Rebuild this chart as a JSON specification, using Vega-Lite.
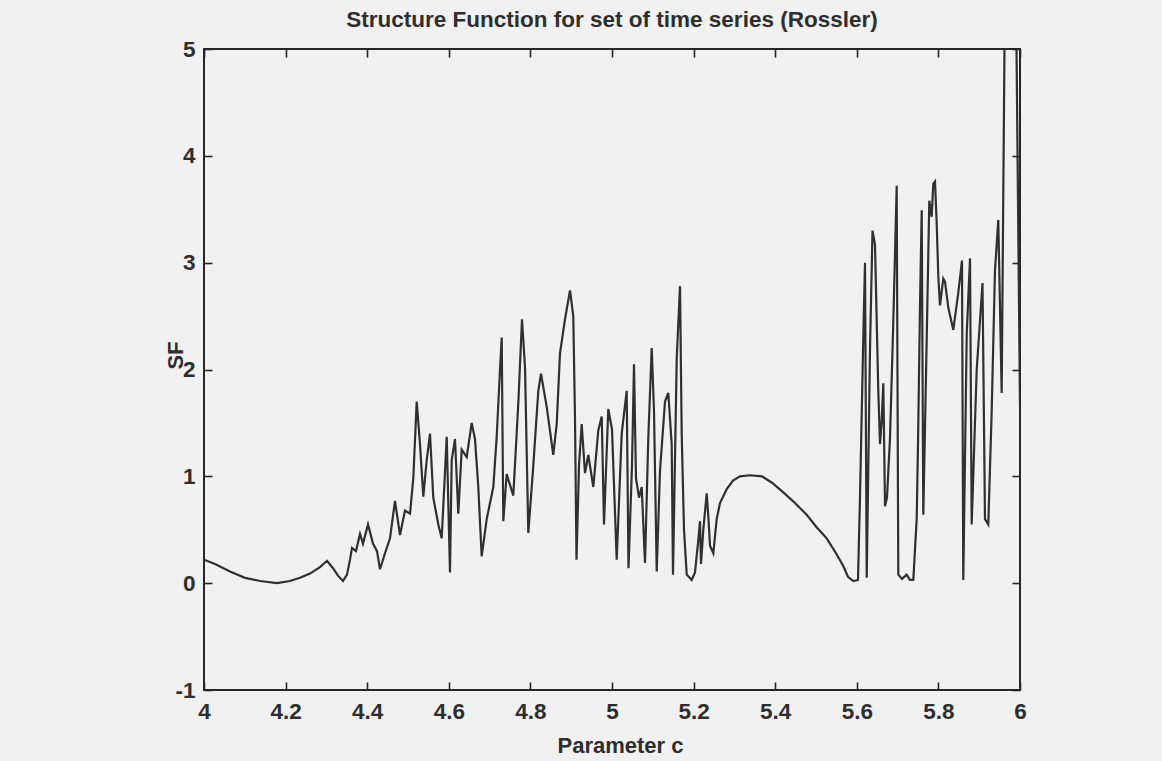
{
  "$schema": "https://vega.github.io/schema/vega-lite/v6.json",
  "width": 816,
  "height": 641,
  "autosize": {"type": "none"},
  "padding": {"left": 204, "top": 49, "right": 142, "bottom": 71},
  "background": "#f1f1f1",
  "title": {
    "text": "Structure Function for set of time series (Rossler)",
    "font": "Liberation Sans",
    "fontSize": 22.5,
    "fontWeight": "bold",
    "color": "#2e2e2e",
    "anchor": "middle",
    "frame": "group",
    "baseline": "bottom",
    "offset": 16,
    "dy": 32
  },
  "config": {
    "view": {"stroke": "#262626", "strokeWidth": 2},
    "axis": {
      "domain": false,
      "grid": false,
      "ticks": true,
      "tickSize": -8,
      "tickWidth": 1.6,
      "tickColor": "#262626",
      "labelFont": "Liberation Sans",
      "labelFontWeight": "bold",
      "labelFontSize": 22.5,
      "labelColor": "#2e2e2e",
      "labelFlush": false,
      "labelOverlap": false,
      "labelBound": false,
      "titleFont": "Liberation Sans",
      "titleFontWeight": "bold",
      "titleFontSize": 22,
      "titleColor": "#2e2e2e"
    }
  },
  "data": {
    "values": [
      {"c": 4.0, "sf": 0.22}, {"c": 4.027, "sf": 0.18}, {"c": 4.0637, "sf": 0.11}, {"c": 4.1005, "sf": 0.05},
      {"c": 4.1373, "sf": 0.02}, {"c": 4.1789, "sf": 0.0}, {"c": 4.2108, "sf": 0.02}, {"c": 4.2353, "sf": 0.05},
      {"c": 4.2598, "sf": 0.09}, {"c": 4.2843, "sf": 0.15}, {"c": 4.3015, "sf": 0.21}, {"c": 4.3162, "sf": 0.14},
      {"c": 4.3284, "sf": 0.07}, {"c": 4.3407, "sf": 0.02}, {"c": 4.3505, "sf": 0.08}, {"c": 4.3578, "sf": 0.22},
      {"c": 4.3627, "sf": 0.33}, {"c": 4.3725, "sf": 0.3}, {"c": 4.3824, "sf": 0.46}, {"c": 4.3897, "sf": 0.37},
      {"c": 4.402, "sf": 0.55}, {"c": 4.4142, "sf": 0.37}, {"c": 4.424, "sf": 0.3}, {"c": 4.4314, "sf": 0.13},
      {"c": 4.4436, "sf": 0.28}, {"c": 4.4559, "sf": 0.42}, {"c": 4.4681, "sf": 0.77}, {"c": 4.4804, "sf": 0.45},
      {"c": 4.4926, "sf": 0.68}, {"c": 4.5049, "sf": 0.65}, {"c": 4.513, "sf": 0.98}, {"c": 4.5213, "sf": 1.7},
      {"c": 4.5294, "sf": 1.3}, {"c": 4.5375, "sf": 0.81}, {"c": 4.5458, "sf": 1.15}, {"c": 4.5539, "sf": 1.4},
      {"c": 4.562, "sf": 0.8}, {"c": 4.5743, "sf": 0.55}, {"c": 4.5826, "sf": 0.42}, {"c": 4.5949, "sf": 1.37},
      {"c": 4.6029, "sf": 0.1}, {"c": 4.6071, "sf": 1.15}, {"c": 4.6152, "sf": 1.35}, {"c": 4.6233, "sf": 0.65},
      {"c": 4.6316, "sf": 1.25}, {"c": 4.6439, "sf": 1.18}, {"c": 4.6561, "sf": 1.5}, {"c": 4.6642, "sf": 1.35},
      {"c": 4.6723, "sf": 0.9}, {"c": 4.6806, "sf": 0.25}, {"c": 4.6929, "sf": 0.6}, {"c": 4.7091, "sf": 0.9},
      {"c": 4.7174, "sf": 1.37}, {"c": 4.7255, "sf": 2.0}, {"c": 4.7297, "sf": 2.3}, {"c": 4.7336, "sf": 0.58},
      {"c": 4.7419, "sf": 1.02}, {"c": 4.7581, "sf": 0.82}, {"c": 4.7703, "sf": 1.68}, {"c": 4.7794, "sf": 2.47},
      {"c": 4.7868, "sf": 2.02}, {"c": 4.7949, "sf": 0.47}, {"c": 4.8071, "sf": 1.1}, {"c": 4.8194, "sf": 1.8},
      {"c": 4.826, "sf": 1.96}, {"c": 4.84, "sf": 1.65}, {"c": 4.8561, "sf": 1.2}, {"c": 4.8645, "sf": 1.49},
      {"c": 4.8725, "sf": 2.15}, {"c": 4.8848, "sf": 2.47}, {"c": 4.8971, "sf": 2.74}, {"c": 4.9051, "sf": 2.5},
      {"c": 4.9093, "sf": 1.55}, {"c": 4.913, "sf": 0.22}, {"c": 4.9191, "sf": 1.1}, {"c": 4.9257, "sf": 1.49},
      {"c": 4.9338, "sf": 1.03}, {"c": 4.9419, "sf": 1.2}, {"c": 4.9542, "sf": 0.9}, {"c": 4.9664, "sf": 1.43},
      {"c": 4.9748, "sf": 1.56}, {"c": 4.9804, "sf": 0.55}, {"c": 4.9909, "sf": 1.63}, {"c": 5.0, "sf": 1.44},
      {"c": 5.0115, "sf": 0.22}, {"c": 5.0238, "sf": 1.4}, {"c": 5.036, "sf": 1.8}, {"c": 5.0404, "sf": 0.14},
      {"c": 5.049, "sf": 1.1}, {"c": 5.0539, "sf": 2.05}, {"c": 5.0588, "sf": 0.98}, {"c": 5.0662, "sf": 0.8},
      {"c": 5.0728, "sf": 0.9}, {"c": 5.0809, "sf": 0.19}, {"c": 5.089, "sf": 1.36}, {"c": 5.0973, "sf": 2.2},
      {"c": 5.1029, "sf": 1.62}, {"c": 5.1096, "sf": 0.11}, {"c": 5.1176, "sf": 1.05}, {"c": 5.1299, "sf": 1.7},
      {"c": 5.138, "sf": 1.78}, {"c": 5.1463, "sf": 1.3}, {"c": 5.1495, "sf": 0.08}, {"c": 5.1586, "sf": 2.1},
      {"c": 5.1667, "sf": 2.78}, {"c": 5.1708, "sf": 1.4}, {"c": 5.1765, "sf": 0.5}, {"c": 5.1831, "sf": 0.08},
      {"c": 5.1953, "sf": 0.03}, {"c": 5.2034, "sf": 0.1}, {"c": 5.2115, "sf": 0.4}, {"c": 5.2157, "sf": 0.58},
      {"c": 5.2181, "sf": 0.18}, {"c": 5.2238, "sf": 0.5}, {"c": 5.2321, "sf": 0.84}, {"c": 5.2365, "sf": 0.6},
      {"c": 5.2402, "sf": 0.35}, {"c": 5.2483, "sf": 0.28}, {"c": 5.2566, "sf": 0.6}, {"c": 5.2647, "sf": 0.75},
      {"c": 5.2811, "sf": 0.88}, {"c": 5.2966, "sf": 0.96}, {"c": 5.3137, "sf": 1.0}, {"c": 5.3382, "sf": 1.01},
      {"c": 5.3676, "sf": 1.0}, {"c": 5.3922, "sf": 0.94}, {"c": 5.4199, "sf": 0.85}, {"c": 5.4485, "sf": 0.75},
      {"c": 5.4772, "sf": 0.64}, {"c": 5.5, "sf": 0.53}, {"c": 5.5262, "sf": 0.42}, {"c": 5.549, "sf": 0.28},
      {"c": 5.5669, "sf": 0.16}, {"c": 5.5784, "sf": 0.06}, {"c": 5.5914, "sf": 0.02}, {"c": 5.6029, "sf": 0.03},
      {"c": 5.6078, "sf": 0.8}, {"c": 5.6159, "sf": 2.3}, {"c": 5.6201, "sf": 3.0}, {"c": 5.6243, "sf": 0.05},
      {"c": 5.6324, "sf": 2.2}, {"c": 5.6385, "sf": 3.3}, {"c": 5.6446, "sf": 3.17}, {"c": 5.6527, "sf": 1.8},
      {"c": 5.6569, "sf": 1.3}, {"c": 5.661, "sf": 1.52}, {"c": 5.665, "sf": 1.87}, {"c": 5.6691, "sf": 0.72},
      {"c": 5.674, "sf": 0.8}, {"c": 5.6814, "sf": 1.36}, {"c": 5.6895, "sf": 2.45}, {"c": 5.6978, "sf": 3.72},
      {"c": 5.7017, "sf": 0.08}, {"c": 5.7108, "sf": 0.04}, {"c": 5.7223, "sf": 0.08}, {"c": 5.7304, "sf": 0.03},
      {"c": 5.7385, "sf": 0.03}, {"c": 5.7468, "sf": 0.6}, {"c": 5.75, "sf": 1.3}, {"c": 5.7549, "sf": 2.6},
      {"c": 5.7591, "sf": 3.49}, {"c": 5.763, "sf": 0.64}, {"c": 5.7713, "sf": 2.28}, {"c": 5.7777, "sf": 3.58},
      {"c": 5.7836, "sf": 3.43}, {"c": 5.7875, "sf": 3.74}, {"c": 5.7917, "sf": 3.76}, {"c": 5.7958, "sf": 3.37},
      {"c": 5.7998, "sf": 2.87}, {"c": 5.8039, "sf": 2.6}, {"c": 5.812, "sf": 2.85}, {"c": 5.8162, "sf": 2.82},
      {"c": 5.8243, "sf": 2.58}, {"c": 5.8365, "sf": 2.37}, {"c": 5.8488, "sf": 2.72}, {"c": 5.8578, "sf": 3.02},
      {"c": 5.861, "sf": 0.03}, {"c": 5.8694, "sf": 2.33}, {"c": 5.8775, "sf": 3.04}, {"c": 5.8816, "sf": 0.55},
      {"c": 5.8939, "sf": 2.0}, {"c": 5.9081, "sf": 2.81}, {"c": 5.9142, "sf": 0.6}, {"c": 5.9223, "sf": 0.55},
      {"c": 5.9306, "sf": 1.61}, {"c": 5.9387, "sf": 2.93}, {"c": 5.9468, "sf": 3.4}, {"c": 5.9551, "sf": 1.78},
      {"c": 5.9632, "sf": 5.6}, {"c": 5.9755, "sf": 5.8}, {"c": 5.9828, "sf": 5.4}, {"c": 5.9902, "sf": 5.5},
      {"c": 6.0, "sf": 1.65}
    ]
  },
  "layer": [
    {
      "mark": {"type": "line", "color": "#303030", "strokeWidth": 2.2, "clip": true},
      "encoding": {
        "x": {
          "field": "c", "type": "quantitative",
          "scale": {"domain": [4, 6], "nice": false, "zero": false},
          "axis": {
            "orient": "bottom",
            "values": [4, 4.2, 4.4, 4.6, 4.8, 5, 5.2, 5.4, 5.6, 5.8, 6],
            "format": "~g",
            "labelPadding": 18,
            "title": "Parameter c",
            "titleX": 416, "titleY": 55,
            "titleAlign": "center", "titleBaseline": "middle"
          }
        },
        "y": {
          "field": "sf", "type": "quantitative",
          "scale": {"domain": [-1, 5], "nice": false, "zero": false},
          "axis": {
            "orient": "left",
            "values": [-1, 0, 1, 2, 3, 4, 5],
            "labelExpr": "'' + datum.value",
            "labelPadding": 17,
            "title": "SF",
            "titleX": -29, "titleY": 306,
            "titleAngle": -90,
            "titleAlign": "center", "titleBaseline": "middle"
          }
        }
      }
    },
    {
      "mark": {"type": "line", "opacity": 0, "clip": true},
      "encoding": {
        "x": {
          "field": "c", "type": "quantitative",
          "axis": {"orient": "top", "values": [4, 4.2, 4.4, 4.6, 4.8, 5, 5.2, 5.4, 5.6, 5.8, 6], "labels": false, "title": null}
        },
        "y": {
          "field": "sf", "type": "quantitative",
          "axis": {"orient": "right", "values": [-1, 0, 1, 2, 3, 4, 5], "labels": false, "title": null}
        }
      }
    }
  ]
}
